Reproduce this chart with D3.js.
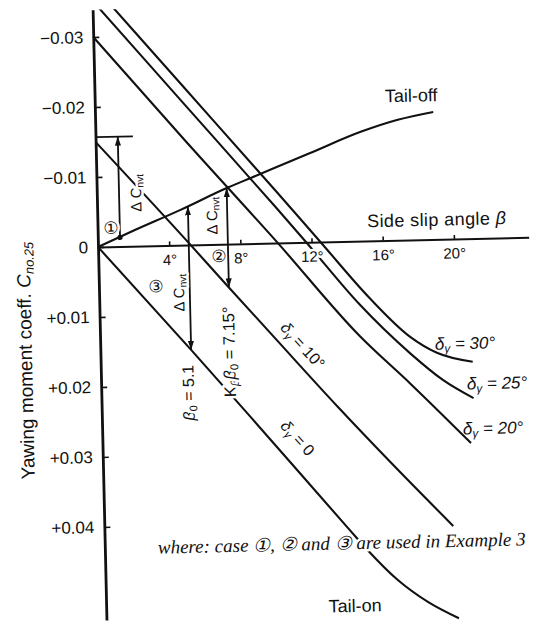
<!DOCTYPE html>
<html>
<head>
<meta charset="utf-8">
<script src="https://cdn.jsdelivr.net/npm/d3@7/dist/d3.min.js"></script>
<style>
  body { margin: 0; background: #fff; }
  svg { display: block; }
  text { font-family: "Liberation Sans", Arial, sans-serif; fill: #111; }
  .halo { paint-order: stroke; stroke: #fff; stroke-width: 5px; stroke-linejoin: round; }
  .curve { fill: none; stroke: #111; stroke-width: 2.1px; }
</style>
</head>
<body>
<div id="chart"></div>
<script>
// values: side slip angle beta (deg), yawing moment coeff Cn
var tailOffBeta = [0, 2, 4.65, 7.4, 8.7, 12, 14.9, 17, 19];
var tailOffCn   = [0, -0.0022, -0.0050, -0.0081, -0.0094, -0.0127, -0.0156, -0.0172, -0.0182];

var dr0Beta  = [0, 5.1, 8.4, 13.7, 14.7, 16.4, 18.1, 19.8];
var dr0Cn    = [0, 0.0150, 0.0249, 0.0410, 0.0440, 0.0485, 0.0518, 0.0542];

var dr10Beta = [0, 5.2, 7.3, 10, 13.3, 16.2, 19.6];
var dr10Cn   = [-0.0150, 0, 0.0062, 0.0141, 0.0237, 0.0318, 0.0410];

var dr20Beta = [0, 5, 10.1, 14.6, 17.4, 20.7];
var dr20Cn   = [-0.0300, -0.0150, 0, 0.0136, 0.0206, 0.0292];

var dr25Beta = [0, 5, 10, 11.7, 14.6, 17.4, 19.2, 20.9];
var dr25Cn   = [-0.0352, -0.0202, -0.0052, 0, 0.0090, 0.0162, 0.0201, 0.0228];

var dr30Beta = [0, 5, 10, 12.5, 15.2, 17.4, 18.9, 20.9];
var dr30Cn   = [-0.0376, -0.0226, -0.0076, 0, 0.0082, 0.0138, 0.0162, 0.0176];

// delta Cnvt arrows (cases 1, 2, 3)
var arrowBeta = [1.25, 7.3, 5.1];
var arrowFrom = [-0.0013, -0.0080, -0.0055];
var arrowTo   = [-0.0157, 0.0062, 0.0150];
var refLineCn = -0.0157, refLineEnd = 2.1;

var yTicks = [-0.03, -0.02, -0.01, 0, 0.01, 0.02, 0.03, 0.04];
var xTicks = [4, 8, 12, 16, 20];

var width = 535, height = 624;
var ox = 98, oy = 247, pxDeg = 17.8, pxUnit = 7000;

var x = d3.scaleLinear().domain([0, 24.2]).range([ox, ox + 24.2 * pxDeg]);
var y = d3.scaleLinear().domain([-0.0339, 0.0533]).range([oy - 0.0339 * pxUnit, oy + 0.0533 * pxUnit]);

var svg = d3.select("#chart").append("svg")
  .attr("width", width)
  .attr("height", height);

var defs = svg.append("defs");
defs.append("marker")
  .attr("id", "ah")
  .attr("viewBox", "0 0 10 10")
  .attr("refX", 10).attr("refY", 5)
  .attr("markerWidth", 9).attr("markerHeight", 9)
  .attr("markerUnits", "userSpaceOnUse")
  .attr("orient", "auto-start-reverse")
  .append("path").attr("d", "M0,1.6L10,5L0,8.4Z").attr("fill", "#111");
defs.append("clipPath").attr("id", "plot")
  .append("rect").attr("x", 0).attr("y", y(-0.0339)).attr("width", width).attr("height", height);

// the scan is tilted a little, so the whole drawing is too
var g = svg.append("g").attr("transform", "rotate(-1.3," + x(0) + "," + y(0) + ")");

var line = d3.line()
  .x(function (d) { return x(d[0]); })
  .y(function (d) { return y(d[1]); })
  .curve(d3.curveMonotoneX);

var curves = g.append("g").attr("clip-path", "url(#plot)");
[[tailOffBeta, tailOffCn], [dr0Beta, dr0Cn], [dr10Beta, dr10Cn],
 [dr20Beta, dr20Cn], [dr25Beta, dr25Cn], [dr30Beta, dr30Cn]].forEach(function (s) {
  curves.append("path")
    .attr("class", "curve")
    .attr("d", line(d3.zip(s[0], s[1])));
});

// reference line for case 1
g.append("line")
  .attr("x1", x(0)).attr("x2", x(refLineEnd))
  .attr("y1", y(refLineCn)).attr("y2", y(refLineCn))
  .attr("stroke", "#111").attr("stroke-width", 1.8);

arrowBeta.forEach(function (b, i) {
  g.append("line")
    .attr("x1", x(b)).attr("x2", x(b))
    .attr("y1", y(arrowFrom[i])).attr("y2", y(arrowTo[i]))
    .attr("stroke", "#111").attr("stroke-width", 1.8)
    .attr("marker-end", "url(#ah)")
    .attr("marker-start", i == 0 ? null : "url(#ah)");
});
g.append("circle").attr("cx", x(arrowBeta[0])).attr("cy", y(arrowFrom[0])).attr("r", 2.6).attr("fill", "#111");

// axes
var yAxis = d3.axisLeft(y)
  .tickValues(yTicks)
  .tickSizeInner(-6).tickSizeOuter(0).tickPadding(10)
  .tickFormat(function (d) {
    if (d == 0) return "0";
    return (d < 0 ? "\u2212" : "+") + Math.abs(d).toFixed(2);
  });
var ya = g.append("g").attr("transform", "translate(" + x(0) + ",0)").call(yAxis);
ya.select(".domain").attr("stroke", "#111").attr("stroke-width", 2.8);
ya.selectAll(".tick line").attr("stroke", "#111").attr("stroke-width", 1.6);
ya.selectAll(".tick text").style("font-size", "17px").style("font-family", "Liberation Sans, Arial, sans-serif").attr("fill", "#111");

var xAxis = d3.axisBottom(x)
  .tickValues(xTicks)
  .tickSizeInner(-4).tickSizeOuter(0).tickPadding(9)
  .tickFormat(function (d) { return d + "\u00b0"; });
var xa = g.append("g").attr("transform", "translate(0," + y(0) + ")").call(xAxis);
xa.select(".domain").attr("stroke", "#111").attr("stroke-width", 2);
xa.selectAll(".tick line").attr("stroke", "#111").attr("stroke-width", 1.6);
xa.selectAll(".tick text").style("font-size", "15px").style("font-family", "Liberation Sans, Arial, sans-serif")
  .attr("fill", "#111").attr("class", "halo");

// text helper: parts are [text, sub, italic]
function addText(b, c, rot, parts, size, o) {
  o = o || {};
  var t = g.append("text")
    .attr("transform", "translate(" + x(b) + "," + y(c) + ") rotate(" + rot + ")")
    .attr("text-anchor", o.anchor || "middle")
    .attr("dominant-baseline", "central")
    .style("font-size", size + "px");
  if (o.halo) t.attr("class", "halo");
  if (o.family) t.style("font-family", o.family);
  var shift = 0;
  parts.forEach(function (p) {
    var s = t.append("tspan").text(p[0]);
    var want = p[1] ? size * 0.3 : 0;
    if (want != shift) { s.attr("dy", want - shift); shift = want; }
    if (p[1]) s.style("font-size", (size * 0.68) + "px");
    if (p[2]) s.style("font-style", "italic");
  });
  return t;
}

var dCn = [["\u0394 C"], ["nvt", true]];
addText(17.78, -0.0206, 0, [["Tail-off"]], 18);
addText(13.98, 0.0521, 0, [["Tail-on"]], 18);
addText(15.15, -0.0028, 0, [["Side slip angle  "], ["\u03b2", false, true]], 18, { anchor: "start" })
  .style("letter-spacing", "0.4px");

addText(20.49, 0.0149, 0, [["\u03b4", false, true], ["\u03b3", true, true], [" = 30\u00b0", false, true]], 17);
addText(22.24, 0.0207, 0, [["\u03b4", false, true], ["\u03b3", true, true], [" = 25\u00b0", false, true]], 17);
addText(21.96, 0.0271, 0, [["\u03b4", false, true], ["\u03b3", true, true], [" = 20\u00b0", false, true]], 17);
addText(11.39, 0.0147, 49, [["\u03b4", false, true], ["\u03b3", true, true], [" = 10\u00b0"]], 16, { halo: true });
addText(10.99, 0.0279, 49, [["\u03b4", false, true], ["\u03b3", true, true], [" = 0"]], 16, { halo: true });

addText(4.87, 0.0211, -90, [["\u03b2", false, true], ["0", true], [" = 5.1"]], 16, { halo: true });
addText(7.22, 0.0154, -90, [["K"], ["\u03b2", true, true], ["\u03b2", false, true], ["0", true], [" = 7.15\u00b0"]], 16.5, { halo: true });

addText(4.44, 0.0068, -90, dCn, 15, { halo: true });
addText(6.39, -0.0041, -90, dCn, 15);
addText(2.15, -0.0076, -90, dCn, 15, { halo: true });

var circ = "\"DejaVu Sans\", \"Noto Sans CJK JP\", sans-serif";
addText(0.75, -0.0027, 0, [["\u2460"]], 17, { family: circ, halo: true });
addText(6.79, 0.0017, 0, [["\u2461"]], 17, { family: circ });
addText(3.21, 0.0058, 0, [["\u2462"]], 17, { family: circ });

addText(-4.24, 0.0160, -90, [["Yawing  moment coeff.  "], ["C", false, true], ["no.25", true, true]], 19);

addText(2.98, 0.0430, 0, [["where: case \u2460, \u2461 and \u2462 are used in Example 3"]], 19,
  { anchor: "start", halo: true, family: "\"Liberation Serif\", \"Times New Roman\", serif" })
  .style("font-style", "italic");
</script>
</body>
</html>
